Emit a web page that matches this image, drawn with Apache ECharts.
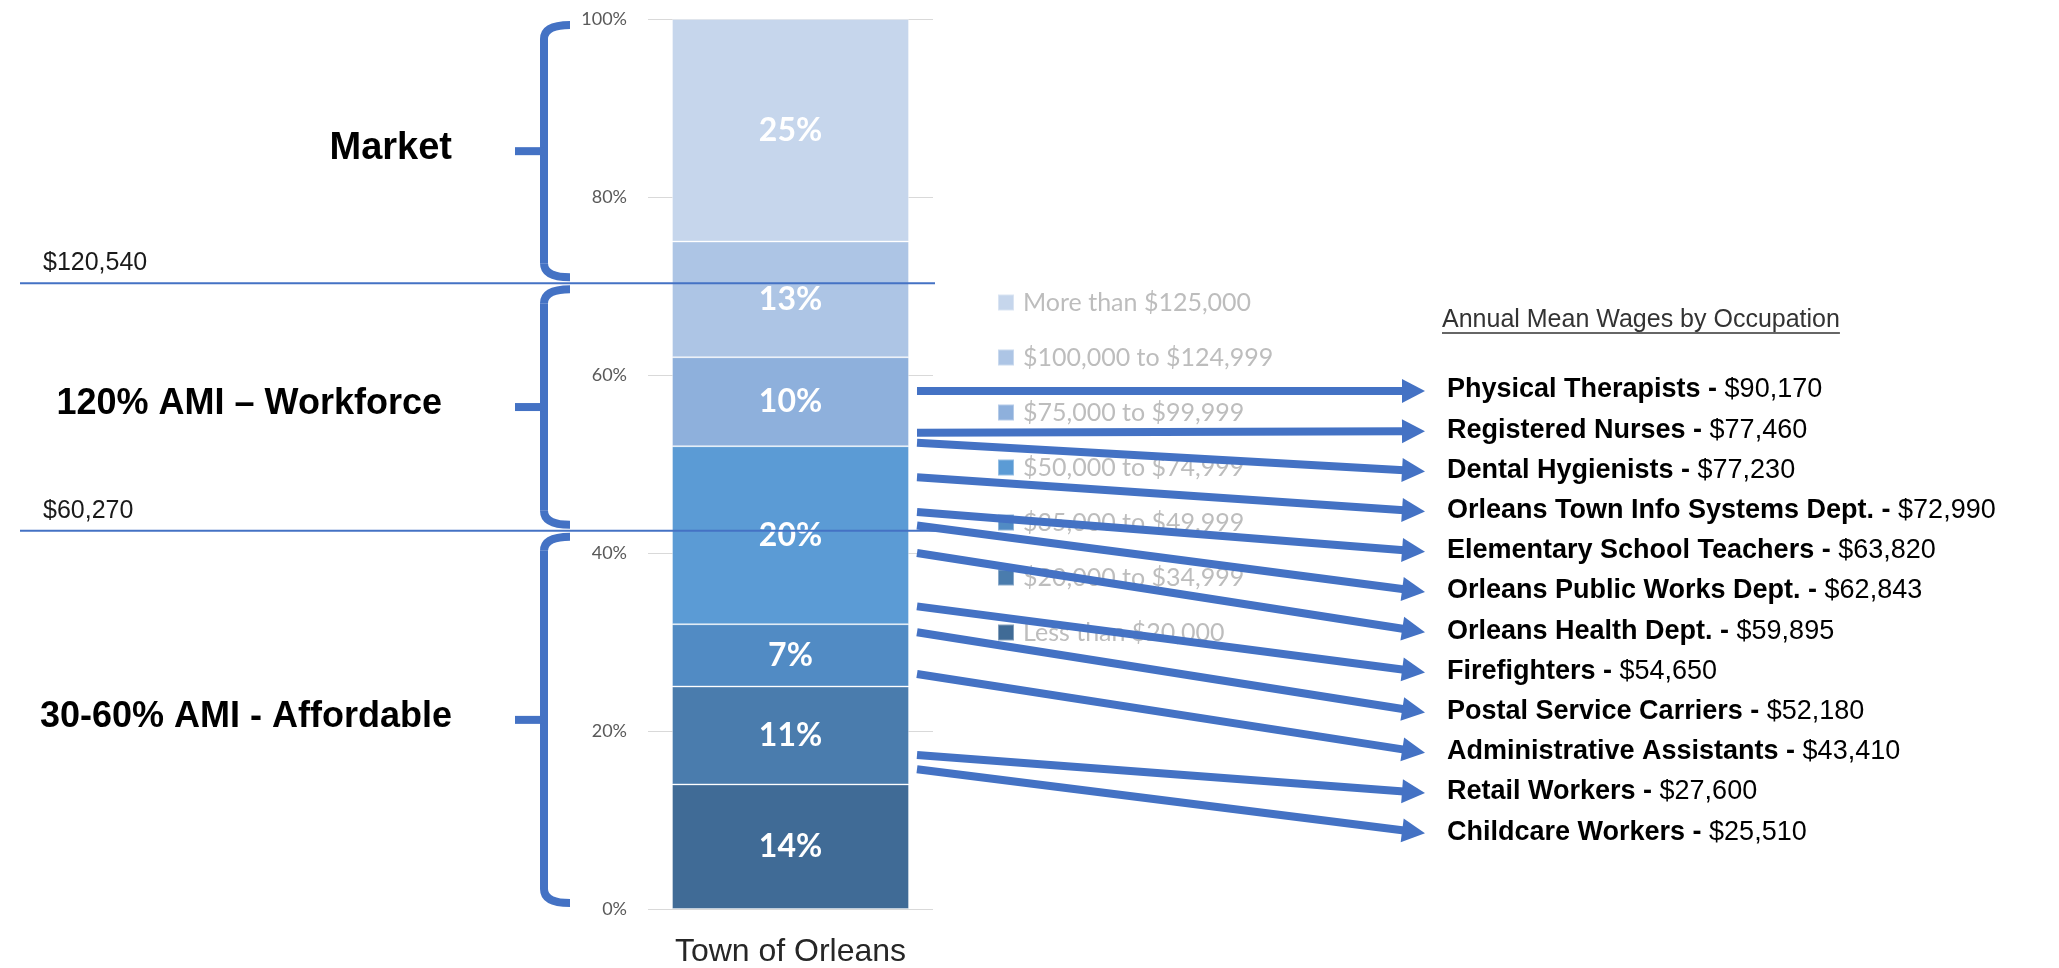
<!DOCTYPE html>
<html>
<head>
<meta charset="utf-8">
<title>Town of Orleans - household income vs AMI</title>
<script src="https://cdn.jsdelivr.net/npm/echarts@6/dist/echarts.min.js"></script>
<style>
  html, body { margin: 0; padding: 0; background: #fff; }
  #main { width: 2059px; height: 968px; }
</style>
</head>
<body>
<div id="main"></div>
<script>
// ---- data ----
var categories = ['Town of Orleans'];
var incomeBands = ['Less than $20,000', '$20,000 to $34,999', '$35,000 to $49,999', '$50,000 to $74,999',
  '$75,000 to $99,999', '$100,000 to $124,999', 'More than $125,000'];
var shares = [14, 11, 7, 20, 10, 13, 25];   // % of households, bottom to top
var bandColors = ['#406b96', '#4a7cad', '#518bc4', '#5b9bd5', '#8eb0dc', '#adc5e5', '#c6d6ec'];

var amiLabels = ['$120,540', '$60,270'];
var amiLevels = [70.3, 42.5];                // where the income lines cross the % axis

var groupNames = ['Market', '120% AMI – Workforce', '30-60% AMI - Affordable'];

var wageTitle = 'Annual Mean Wages by Occupation';
var jobs = ['Physical Therapists', 'Registered Nurses', 'Dental Hygienists', 'Orleans Town Info Systems Dept.',
  'Elementary School Teachers', 'Orleans Public Works Dept.', 'Orleans Health Dept.', 'Firefighters',
  'Postal Service Carriers', 'Administrative Assistants', 'Retail Workers', 'Childcare Workers'];
var wages = ['$90,170', '$77,460', '$77,230', '$72,990', '$63,820', '$62,843', '$59,895', '$54,650',
  '$52,180', '$43,410', '$27,600', '$25,510'];
var arrowFrom = [58.2, 53.5, 52.4, 48.5, 44.6, 43.1, 40.0, 34.0, 31.1, 26.4, 17.3, 15.7]; // % axis

// ---- layout ----
var BLUE = '#4472c4';
var GRID_L = 648, GRID_R = 933, GRID_T = 19, GRID_B = 909;
var BAR_W = 237;
var LIST_X = 1447, LIST_TOP = 390, ROW_GAP = 40.2, ARROW_TIP = 1425;
var GROUP_RIGHT = [452, 442, 452];
var GROUP_SIZE = [38, 36, 36];

var chart = echarts.init(document.getElementById('main'));

var series = [];
for (var i = 0; i < shares.length; i++) {
  series.push({
    name: incomeBands[i],
    type: 'bar',
    stack: 'total',
    barWidth: BAR_W,
    data: [shares[i]],
    itemStyle: { color: bandColors[i], borderColor: 'rgba(255,255,255,0.35)', borderWidth: 1 },
    label: {
      show: true,
      position: 'inside',
      formatter: '{c}%',
      color: '#fff',
      fontFamily: 'Lato',
      fontWeight: 'bold',
      fontSize: 32
    }
  });
}

chart.setOption({
  animation: false,
  backgroundColor: '#fff',
  grid: { left: GRID_L, right: 2059 - GRID_R, top: GRID_T, bottom: 968 - GRID_B, containLabel: false },
  legend: {
    orient: 'vertical',
    left: 997,
    top: 290,
    padding: 0,
    itemGap: 30,
    itemWidth: 16,
    itemHeight: 16,
    icon: 'rect',
    data: incomeBands.slice().reverse(),
    textStyle: { fontFamily: 'Lato', fontSize: 25, lineHeight: 25, color: '#bdbdbd', padding: [0, 0, 0, 4] }
  },
  xAxis: {
    type: 'category',
    data: categories,
    axisLine: { show: false },
    axisTick: { show: false },
    axisLabel: { fontFamily: 'Liberation Sans', fontSize: 32, color: '#262626', margin: 27 }
  },
  yAxis: {
    type: 'value',
    min: 0,
    max: 100,
    interval: 20,
    axisLabel: { formatter: '{value}%', fontFamily: 'Lato', fontSize: 18, color: '#595959', margin: 21 },
    splitLine: { lineStyle: { color: '#d9d9d9', width: 1 } }
  },
  series: series
});

// ---- annotations ----
function yPx(v) { return chart.convertToPixel({ yAxisIndex: 0 }, v); }
function blueStroke(w) { return { stroke: BLUE, lineWidth: w, fill: null }; }

var g = [];

function brace(y0, y1) {
  var x = 544, end = 570, tip = 515, r = 14;
  var mid = (y0 + y1) / 2;
  return [
    { type: 'bezierCurve', z: 10, shape: { x1: end, y1: y0, x2: x, y2: y0 + r, cpx1: x, cpy1: y0 }, style: blueStroke(8) },
    { type: 'line', z: 10, shape: { x1: x, y1: y0 + r, x2: x, y2: y1 - r }, style: blueStroke(8) },
    { type: 'bezierCurve', z: 10, shape: { x1: x, y1: y1 - r, x2: end, y2: y1, cpx1: x, cpy1: y1 }, style: blueStroke(8) },
    { type: 'line', z: 10, shape: { x1: tip, y1: mid, x2: x, y2: mid }, style: blueStroke(8) }
  ];
}

// group braces + labels, bounded by the AMI lines
var edges = [100].concat(amiLevels).concat([0]);
for (var k = 0; k < groupNames.length; k++) {
  var braceTop = yPx(edges[k]) + 6;
  var braceBot = yPx(edges[k + 1]) - 6;
  g = g.concat(brace(braceTop, braceBot));
  g.push({
    type: 'text', z: 10, x: GROUP_RIGHT[k], y: (braceTop + braceBot) / 2 - 3,
    style: {
      text: groupNames[k], align: 'right', verticalAlign: 'middle',
      font: 'bold ' + GROUP_SIZE[k] + 'px "Liberation Sans", Arial, sans-serif', fill: '#000'
    }
  });
}

// AMI income lines
for (var a = 0; a < amiLevels.length; a++) {
  var ly = yPx(amiLevels[a]);
  g.push({ type: 'line', z: 11, shape: { x1: 20, y1: ly, x2: GRID_R + 2, y2: ly }, style: blueStroke(2) });
  g.push({
    type: 'text', z: 11, x: 43, y: ly - 20,
    style: { text: amiLabels[a], verticalAlign: 'middle', font: '25px "Liberation Sans", Arial, sans-serif', fill: '#1a1a1a' }
  });
}

// wage list title with underline
var ctx = document.createElement('canvas').getContext('2d');
ctx.font = '25px "Liberation Sans"';
var titleW = ctx.measureText(wageTitle).width;
g.push({
  type: 'text', z: 10, x: 1442, y: 320,
  style: { text: wageTitle, verticalAlign: 'middle', font: '25px "Liberation Sans", Arial, sans-serif', fill: '#333' }
});
g.push({ type: 'line', z: 10, shape: { x1: 1442, y1: 333, x2: 1442 + titleW, y2: 333 }, style: { stroke: '#333', lineWidth: 1.5 } });

// occupation rows and arrows from the bar
var barRight = chart.convertToPixel({ xAxisIndex: 0 }, 0) + BAR_W / 2;
for (var j = 0; j < jobs.length; j++) {
  var rowY = LIST_TOP + j * ROW_GAP;
  g.push({
    type: 'text', z: 10, x: LIST_X, y: rowY,
    style: {
      text: '{b|' + jobs[j] + ' - }{r|' + wages[j] + '}',
      verticalAlign: 'middle',
      rich: {
        b: { fontFamily: 'Liberation Sans', fontWeight: 'bold', fontSize: 27, color: '#000' },
        r: { fontFamily: 'Liberation Sans', fontSize: 27, color: '#111' }
      }
    }
  });

  var ax0 = barRight + 8, ay0 = yPx(arrowFrom[j]);
  var ax1 = ARROW_TIP, ay1 = rowY + 1;
  var dx = ax1 - ax0, dy = ay1 - ay0, len = Math.sqrt(dx * dx + dy * dy);
  var ux = dx / len, uy = dy / len;
  var bx = ax1 - ux * 23, by = ay1 - uy * 23;
  g.push({ type: 'line', z: 12, shape: { x1: ax0, y1: ay0, x2: bx + ux * 2, y2: by + uy * 2 }, style: blueStroke(8) });
  g.push({
    type: 'polygon', z: 12,
    shape: { points: [[ax1, ay1], [bx - uy * 12, by + ux * 12], [bx + uy * 12, by - ux * 12]] },
    style: { fill: BLUE }
  });
}

chart.setOption({ graphic: g });
</script>
</body>
</html>
